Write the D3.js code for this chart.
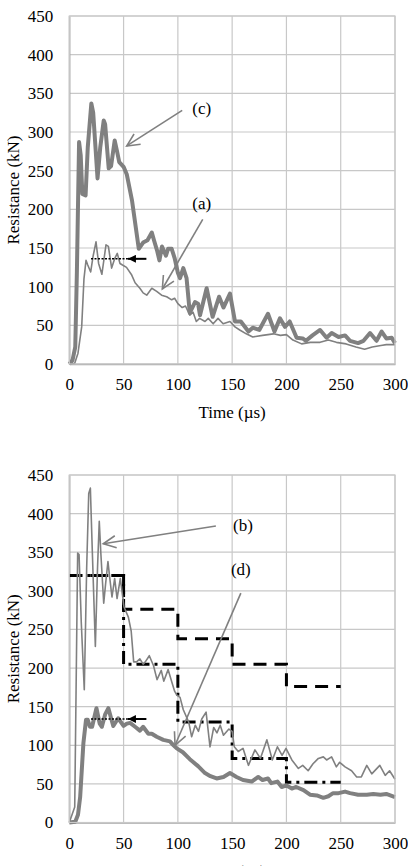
<!DOCTYPE html>
<html>
<head>
<meta charset="utf-8">
<script src="https://cdn.jsdelivr.net/npm/d3@7"></script>
<style>
  body { margin: 0; background: #fff; }
  svg { display: block; }
  text { font-family: "Liberation Serif", "Times New Roman", serif; fill: #000; }
</style>
</head>
<body>
<div id="canva"></div>
<script>
// ---- data ----
const timeTicks = [0, 50, 100, 150, 200, 250, 300];
const resTicks = [0, 50, 100, 150, 200, 250, 300, 350, 400, 450];

// top panel, curve (c): thick
const curveC = [[0,0],[3,5],[5.5,22],[7,120],[9,287],[10.5,270],[12,220],[15,218],[17,280],[20.3,337],[22,325],[26,240],[28.5,280],[31.7,315],[33,310],[36.3,253],[38.5,256],[41.8,289],[44,275],[46,261],[50,255],[53,245],[57.7,212],[64,149],[68,157],[72,160],[76,170],[78,160],[80.8,147],[83,134],[85.4,152],[89,140],[91,149],[94.3,149],[97,137],[100,118],[102,111],[105,124],[108,111],[111,66],[115.8,80],[118.6,78],[120.4,63],[126.5,98],[132,61],[138,87],[142,73],[148,91],[152.6,55],[158,55],[165,42],[169,47],[175,44],[183,65],[189,42],[194,59],[198.7,48],[203,55],[209.4,34],[215,33],[218,30],[224,37],[231,44],[237,34],[241.7,40],[248,35],[254,37],[258.6,30],[266,27],[271,30],[277,40],[283,30],[287.7,42],[292,33],[297,34],[300,27]];

// top panel, curve (a): thin
const curveA = [[0,0],[5,1],[8,14],[11.4,48],[13.5,110],[15.4,134],[17,128],[19.7,119],[22,140],[24.6,158],[27,130],[30,116],[33.8,154],[36,152],[39,124],[42,137],[44.2,143],[46.7,130],[49,128],[52.7,125],[57.5,115],[60.6,105],[65,98],[68,92],[71.3,89],[76,98],[80.5,94],[85,89],[89.7,87],[94.3,83],[97,85],[100,78],[104,73],[107,75],[111,63],[114,67],[117,55],[120,59],[125,55],[128,59],[132.5,52],[137,59],[141.7,52],[148,55],[152.6,48],[157,44],[163,39],[169,35],[178,37],[188,39],[194.5,37],[200,38],[206,31],[214,26],[222,28],[231,28],[238.6,31],[246,28],[255,26],[264,22],[272,19],[279,22],[287,24],[292,25],[300,25]];

// bottom panel, curve (b): thin
const curveB = [[0,0],[5,20],[7.7,349],[9,347],[11,260],[13.8,172],[16,330],[17.9,426],[19.4,433],[21,360],[24,228],[26,330],[27.6,390],[29,350],[31.7,284],[33.5,310],[35.6,338],[37,320],[39.3,292],[41.8,316],[44,290],[47,316],[50.4,279],[54.4,266],[57,248],[59.3,208],[62,208],[65,212],[68,205],[70,208],[73.7,216],[77.6,203],[80.8,185],[84.7,197],[87,183],[91,198],[94,184],[97,170],[99,165],[102,162],[105,146],[110,130],[112.7,111],[116,126],[119,118],[122,134],[126,143],[129.6,98],[133,123],[136,116],[139,126],[142,113],[147,121],[150,118],[152,98],[155.6,92],[160,96],[165,74],[171,94],[176,83],[182,107],[187,81],[191.7,98],[196,87],[199.6,96],[205,81],[211,70],[215,74],[220,67],[224.5,76],[229.4,83],[234,85],[237,81],[241.6,85],[246,72],[249,78],[254,72],[260,67],[264.7,59],[269,59],[274,74],[278.6,63],[286,74],[291,61],[295,67],[300,56]];

// bottom panel, curve (d): thick
const curveD = [[0,0],[5.5,1],[8,10],[10,33],[13,103],[15.4,133],[17,133],[19,124],[21,124],[25,148],[28,128],[30,124],[33,140],[36,148],[38.7,134],[40.5,125],[45,135],[50,125],[53,128],[56,129],[60.6,124],[65,119],[68,124],[72.8,115],[76,115],[80.5,111],[86.6,107],[92.7,105],[96,100],[99,96],[104.6,91],[111,82],[118.6,73],[125,64],[130,60],[135.7,57],[142,59],[148,64],[154,59],[160,55],[168,53],[174,59],[178,55],[183,57],[186,51],[191.7,53],[195.6,46],[200,48],[205,44],[209,46],[215.7,42],[221.7,36],[228,35],[234,32],[238.6,34],[243,38],[248,38],[254,40],[258.6,38],[266,36],[274,36],[280,37],[286.6,36],[292,37],[300,33]];

// bottom panel, step levels
const stepTimes = [0, 50, 100, 150, 200, 250];
const dashedLevels = [320, 276, 238, 205, 176];
const dashDotLevels = [320, 205, 130, 83, 52];

// annotations: label, text position, arrow start, arrow tip (data units)
const topNotes = [
  { label: "(c)", text: [122, 331], from: [104, 328], to: [52.9, 282] },
  { label: "(a)", text: [122, 208], from: [122.9, 187], to: [85.7, 97] }
];
const bottomNotes = [
  { label: "(b)", text: [160, 384], from: [135, 384], to: [31.3, 361] },
  { label: "(d)", text: [158, 328], from: [158, 297], to: [97.4, 100] }
];
// dotted level + black arrow: [level, dotted start, dotted end, arrow tail]
const topPlateau = [136, 20, 54, 71];
const bottomPlateau = [134, 20, 54, 71];

const width = 408, height = 866;
const gray = "#808080";

const svg = d3.select("#canva").append("svg")
  .attr("width", width).attr("height", height);

const defs = svg.append("defs");
defs.append("marker")
  .attr("id", "blackHead")
  .attr("viewBox", "0 0 10 10")
  .attr("refX", 10).attr("refY", 5)
  .attr("markerWidth", 4.5).attr("markerHeight", 4)
  .attr("markerUnits", "strokeWidth")
  .attr("orient", "auto")
  .append("path").attr("d", "M0,0L10,5L0,10z").attr("fill", "#000");

const drawPanel = (top, bottom, lines, notes, plateau, steps) => {
  const left = 69.3, right = 395;
  const x = d3.scaleLinear().domain([0, 300]).range([left, right]);
  const y = d3.scaleLinear().domain([0, 450]).range([bottom, top]);
  const g = svg.append("g");

  // grid
  g.append("g").selectAll("line").data(timeTicks).enter().append("line")
    .attr("x1", (d) => x(d)).attr("x2", (d) => x(d))
    .attr("y1", top).attr("y2", bottom)
    .attr("stroke", "#c8c8c8").attr("stroke-width", 1.2);
  g.append("g").selectAll("line").data(resTicks).enter().append("line")
    .attr("x1", left).attr("x2", right)
    .attr("y1", (d) => y(d)).attr("y2", (d) => y(d))
    .attr("stroke", "#c8c8c8").attr("stroke-width", 1.2);

  // axes
  const ax = g.append("g").attr("transform", `translate(0,${bottom})`)
    .call(d3.axisBottom(x).tickValues(timeTicks).tickSize(0).tickPadding(14));
  ax.select(".domain").attr("stroke", "#a6a6a6").attr("stroke-width", 1.3);
  ax.selectAll("text").style("font-size", "17px")
    .style("font-family", "Liberation Serif").attr("fill", "#000");
  const ay = g.append("g").attr("transform", `translate(${left},0)`)
    .call(d3.axisLeft(y).tickValues(resTicks).tickSize(0).tickPadding(16));
  ay.select(".domain").attr("stroke", "#a6a6a6").attr("stroke-width", 1.3);
  ay.selectAll("text").style("font-size", "17px")
    .style("font-family", "Liberation Serif").attr("fill", "#000");

  g.append("text")
    .attr("transform", `translate(13,${(top + bottom) / 2}) rotate(-90)`)
    .attr("text-anchor", "middle").attr("dominant-baseline", "central")
    .style("font-size", "17px").text("Resistance (kN)");
  g.append("text")
    .attr("x", x(150)).attr("y", bottom + 54)
    .attr("text-anchor", "middle")
    .style("font-size", "17px").text("Time (\u00b5s)");

  const line = d3.line().x((d) => x(d[0])).y((d) => y(d[1]));

  if (steps) {
    const stepLine = d3.line().x((d) => x(d[0])).y((d) => y(d[1])).curve(d3.curveStepAfter);
    const pts = (levels) => stepTimes.map((t, i) => [t, levels[Math.min(i, levels.length - 1)]]);
    g.append("path").attr("d", stepLine(pts(steps.dashed)))
      .attr("fill", "none").attr("stroke", "#000").attr("stroke-width", 3)
      .attr("stroke-dasharray", "13,8");
    g.append("path").attr("d", stepLine(pts(steps.dashDot)))
      .attr("fill", "none").attr("stroke", "#000").attr("stroke-width", 3)
      .attr("stroke-dasharray", "13,5,3,5");
  }

  lines.forEach((l) => {
    g.append("path").attr("d", line(l.data))
      .attr("fill", "none").attr("stroke", gray)
      .attr("stroke-width", l.w).attr("stroke-linejoin", "round");
  });

  // dotted level + black arrow
  g.append("line")
    .attr("x1", x(plateau[1])).attr("x2", x(plateau[2]))
    .attr("y1", y(plateau[0])).attr("y2", y(plateau[0]))
    .attr("stroke", "#000").attr("stroke-width", 1.5).attr("stroke-dasharray", "2,1.5");
  g.append("line")
    .attr("x1", x(plateau[3])).attr("x2", x(plateau[2]))
    .attr("y1", y(plateau[0])).attr("y2", y(plateau[0]))
    .attr("stroke", "#000").attr("stroke-width", 2)
    .attr("marker-end", "url(#blackHead)");

  // labelled gray arrows
  notes.forEach((n) => {
    const x1 = x(n.from[0]), y1 = y(n.from[1]);
    const x2 = x(n.to[0]), y2 = y(n.to[1]);
    g.append("line").attr("x1", x1).attr("y1", y1).attr("x2", x2).attr("y2", y2)
      .attr("stroke", gray).attr("stroke-width", 1.6);
    const ang = Math.atan2(y1 - y2, x1 - x2);
    const arm = 14, spread = 0.45;
    const head = [
      [x2 + arm * Math.cos(ang + spread), y2 + arm * Math.sin(ang + spread)],
      [x2, y2],
      [x2 + arm * Math.cos(ang - spread), y2 + arm * Math.sin(ang - spread)]
    ];
    g.append("path").attr("d", d3.line()(head))
      .attr("fill", "none").attr("stroke", gray).attr("stroke-width", 1.6);
    g.append("text").attr("x", x(n.text[0])).attr("y", y(n.text[1]))
      .attr("text-anchor", "middle").attr("dominant-baseline", "central")
      .style("font-size", "17px").text(n.label);
  });

  // plot frame on right/top
  g.append("rect").attr("x", left).attr("y", top)
    .attr("width", right - left).attr("height", bottom - top)
    .attr("fill", "none").attr("stroke", "#c8c8c8").attr("stroke-width", 1.2);
};

drawPanel(16, 364, [
  { data: curveA, w: 1.6 },
  { data: curveC, w: 4 }
], topNotes, topPlateau, null);

drawPanel(475, 822.5, [
  { data: curveB, w: 1.6 },
  { data: curveD, w: 4 }
], bottomNotes, bottomPlateau, { dashed: dashedLevels, dashDot: dashDotLevels });
</script>
</body>
</html>
